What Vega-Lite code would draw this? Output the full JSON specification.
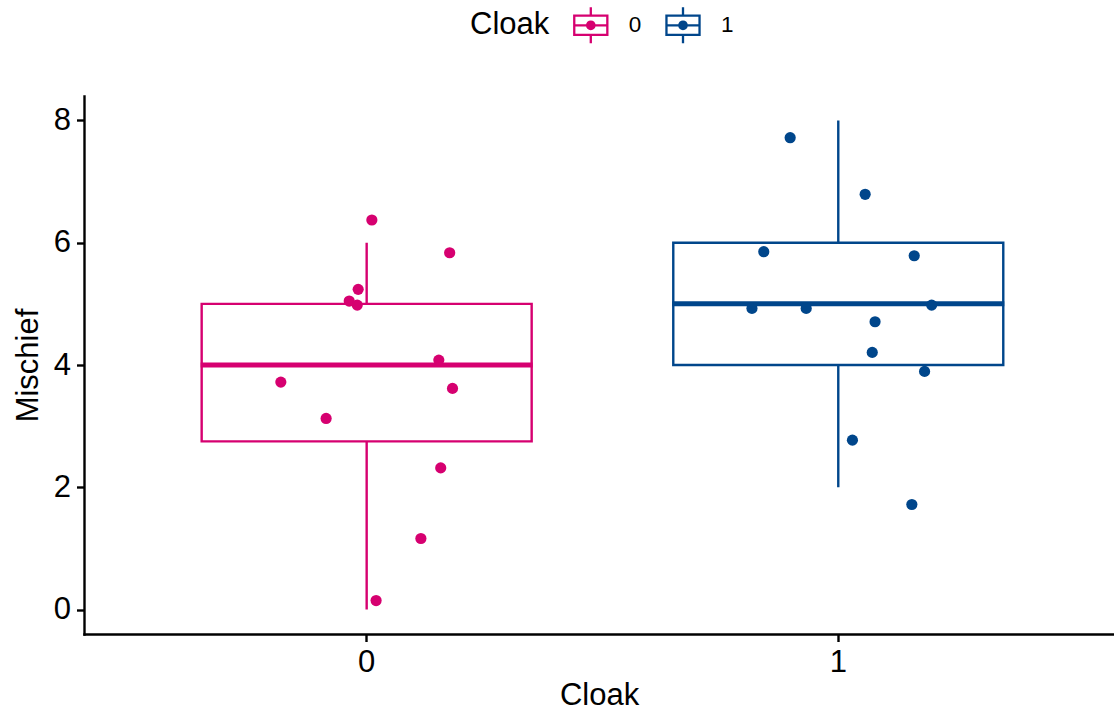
{
  "$schema": "https://vega.github.io/schema/vega-lite/v6.json",
  "width": 1030,
  "height": 538,
  "autosize": {"type": "none"},
  "padding": {"left": 84, "top": 96, "right": 0, "bottom": 82},
  "background": "white",
  "data": {
    "values": [
      {"Cloak": "0", "Mischief": 3, "Jittered": 3.126, "JitterX": -0.086},
      {"Cloak": "0", "Mischief": 1, "Jittered": 1.162, "JitterX": 0.115},
      {"Cloak": "0", "Mischief": 5, "Jittered": 5.237, "JitterX": -0.018},
      {"Cloak": "0", "Mischief": 4, "Jittered": 4.080, "JitterX": 0.153},
      {"Cloak": "0", "Mischief": 6, "Jittered": 6.372, "JitterX": 0.011},
      {"Cloak": "0", "Mischief": 4, "Jittered": 3.720, "JitterX": -0.182},
      {"Cloak": "0", "Mischief": 6, "Jittered": 5.836, "JitterX": 0.176},
      {"Cloak": "0", "Mischief": 2, "Jittered": 2.317, "JitterX": 0.157},
      {"Cloak": "0", "Mischief": 0, "Jittered": 0.147, "JitterX": 0.020},
      {"Cloak": "0", "Mischief": 5, "Jittered": 5.046, "JitterX": -0.037},
      {"Cloak": "0", "Mischief": 4, "Jittered": 3.617, "JitterX": 0.182},
      {"Cloak": "0", "Mischief": 5, "Jittered": 4.980, "JitterX": -0.020},
      {"Cloak": "1", "Mischief": 4, "Jittered": 4.206, "JitterX": 0.072},
      {"Cloak": "1", "Mischief": 3, "Jittered": 2.771, "JitterX": 0.030},
      {"Cloak": "1", "Mischief": 6, "Jittered": 5.853, "JitterX": -0.158},
      {"Cloak": "1", "Mischief": 6, "Jittered": 5.787, "JitterX": 0.161},
      {"Cloak": "1", "Mischief": 8, "Jittered": 7.718, "JitterX": -0.102},
      {"Cloak": "1", "Mischief": 5, "Jittered": 4.926, "JitterX": -0.183},
      {"Cloak": "1", "Mischief": 5, "Jittered": 4.926, "JitterX": -0.068},
      {"Cloak": "1", "Mischief": 4, "Jittered": 3.895, "JitterX": 0.183},
      {"Cloak": "1", "Mischief": 2, "Jittered": 1.718, "JitterX": 0.156},
      {"Cloak": "1", "Mischief": 5, "Jittered": 4.980, "JitterX": 0.198},
      {"Cloak": "1", "Mischief": 7, "Jittered": 6.792, "JitterX": 0.057},
      {"Cloak": "1", "Mischief": 5, "Jittered": 4.707, "JitterX": 0.078}
    ]
  },
  "config": {
    "font": "Liberation Sans",
    "view": {"stroke": null},
    "axis": {
      "grid": false,
      "domainColor": "black",
      "domainWidth": 2.4,
      "domainCap": "square",
      "tickColor": "black",
      "tickWidth": 2.4,
      "tickSize": 7.5,
      "labelColor": "black",
      "labelFont": "Liberation Sans",
      "labelFontSize": 31,
      "titleColor": "black",
      "titleFont": "Liberation Sans",
      "titleFontSize": 31,
      "titleFontWeight": "normal"
    }
  },
  "encoding": {
    "x": {
      "field": "Cloak",
      "type": "nominal",
      "scale": {"domain": ["0", "1"], "paddingInner": 0, "paddingOuter": 0.092, "align": 0.54},
      "axis": {"title": "Cloak", "labelAngle": 0, "labelPadding": 5.5, "titlePadding": 3}
    },
    "color": {
      "field": "Cloak",
      "type": "nominal",
      "scale": {"domain": ["0", "1"], "range": ["#D60070", "#00468B"]},
      "legend": {
        "title": "Cloak",
        "orient": "none",
        "legendX": 386,
        "legendY": -88.7,
        "direction": "horizontal",
        "padding": 0,
        "titleOrient": "left",
        "titleAnchor": "middle",
        "titleBaseline": "middle",
        "titleFont": "Liberation Sans",
        "titleFontSize": 31,
        "titleFontWeight": "normal",
        "titleColor": "black",
        "titlePadding": 22.8,
        "labelFont": "Liberation Sans",
        "labelFontSize": 22.5,
        "labelColor": "black",
        "labelOffset": 20,
        "columnPadding": 23.2,
        "symbolSize": 1296,
        "symbolStrokeWidth": 0,
        "symbolOpacity": 1,
        "symbolType": "M-0.983,-0.6H0.983V0.6H-0.983Z M-0.855,-0.472V0.472H0.855V-0.472Z M-0.855,-0.064H0.855V0.064H-0.855Z M-0.064,-1H0.064V-0.6H-0.064Z M-0.064,0.6H0.064V1H-0.064Z M0.27,0L0.249,0.103L0.191,0.191L0.103,0.249L0,0.27L-0.103,0.249L-0.191,0.191L-0.249,0.103L-0.27,0L-0.249,-0.103L-0.191,-0.191L-0.103,-0.249L0,-0.27L0.103,-0.249L0.191,-0.191L0.249,-0.103Z",
        "encode": {
          "symbols": {
            "update": {
              "fill": {"scale": "color", "field": "value"},
              "strokeWidth": {"value": 0}
            }
          }
        }
      }
    }
  },
  "layer": [
    {
      "transform": [
        {"aggregate": [
          {"op": "min", "field": "Mischief", "as": "lo"},
          {"op": "max", "field": "Mischief", "as": "hi"}
        ], "groupby": ["Cloak"]}
      ],
      "mark": {"type": "rule", "strokeWidth": 2.4},
      "encoding": {
        "y": {
          "field": "lo",
          "type": "quantitative",
          "scale": {"domain": [-0.4, 8.4], "nice": false, "zero": false},
          "axis": {"title": "Mischief", "values": [0, 2, 4, 6, 8], "format": "d", "labelPadding": 6, "titlePadding": 9}
        },
        "y2": {"field": "hi"}
      }
    },
    {
      "transform": [
        {"aggregate": [
          {"op": "q1", "field": "Mischief", "as": "lower"},
          {"op": "q3", "field": "Mischief", "as": "upper"}
        ], "groupby": ["Cloak"]}
      ],
      "mark": {"type": "bar", "filled": false, "fill": "white", "strokeWidth": 2.4, "size": 330},
      "encoding": {
        "y": {"field": "lower", "type": "quantitative"},
        "y2": {"field": "upper"}
      }
    },
    {
      "transform": [
        {"aggregate": [
          {"op": "median", "field": "Mischief", "as": "mid"}
        ], "groupby": ["Cloak"]}
      ],
      "mark": {"type": "tick", "size": 332, "thickness": 5, "opacity": 1},
      "encoding": {
        "y": {"field": "mid", "type": "quantitative"}
      }
    },
    {
      "mark": {"type": "circle", "size": 125, "opacity": 1},
      "encoding": {
        "y": {"field": "Jittered", "type": "quantitative"},
        "xOffset": {
          "field": "JitterX",
          "type": "quantitative",
          "scale": {"domain": [-0.5, 0.5], "nice": false, "zero": false}
        }
      }
    }
  ]
}
